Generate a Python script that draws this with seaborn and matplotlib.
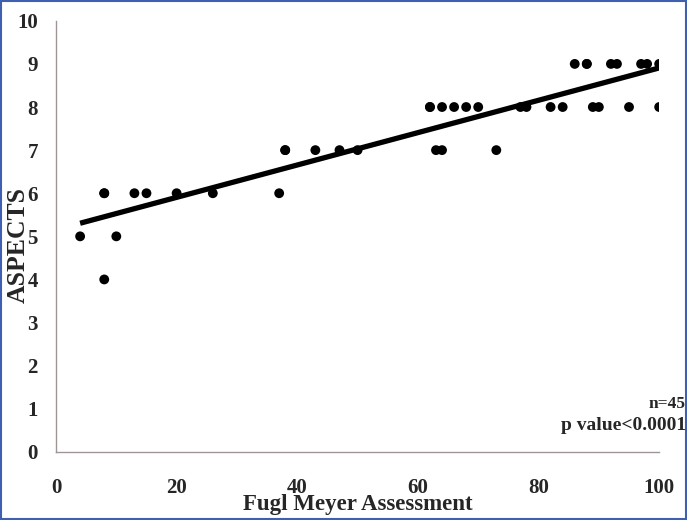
import matplotlib
matplotlib.use("Agg")
import matplotlib.pyplot as plt
import seaborn as sns
import pandas as pd
from matplotlib.patches import Rectangle

fugl_meyer = [8, 4, 10, 8, 8, 13, 15, 20, 26, 37,
              38, 38, 43, 47, 50, 63, 64, 73,
              62, 62, 64, 66, 68, 70, 77, 78, 82, 84, 89, 90, 95, 100,
              86, 88, 88, 92, 93, 97, 98, 100]
aspects = [4, 5, 5, 6, 6, 6, 6, 6, 6, 6,
           7, 7, 7, 7, 7, 7, 7, 7,
           8, 8, 8, 8, 8, 8, 8, 8, 8, 8, 8, 8, 8, 8,
           9, 9, 9, 9, 9, 9, 9, 9]
x_ticks = [0, 20, 40, 60, 80, 100]
y_ticks = list(range(0, 11))

df = pd.DataFrame({"Fugl Meyer Assessment": fugl_meyer, "ASPECTS": aspects})

sns.set_style("white")
plt.rcParams['font.family'] = ['Liberation Serif', 'DejaVu Serif']

fig = plt.figure(figsize=(6.87, 5.2), dpi=100)
ax = fig.add_axes([0.0815, 0.131, 0.878, 0.829])

sns.regplot(data=df, x="Fugl Meyer Assessment", y="ASPECTS", ax=ax, ci=None,
            scatter_kws=dict(s=50, color="black", edgecolor="none", alpha=1),
            line_kws=dict(color="black", lw=3.8, solid_capstyle="butt"))

ax.set_xlim(0, 100)
ax.set_ylim(0, 10)
ax.set_xticks(x_ticks)
ax.set_yticks(y_ticks)
ax.set_xticklabels([str(t) for t in x_ticks], fontsize=15, fontweight="bold")
ax.set_yticklabels([str(t) for t in y_ticks], fontsize=15, fontweight="bold")
ax.tick_params(axis="x", direction="out", length=5, width=1, color="#a09595", pad=14)
ax.tick_params(axis="y", direction="out", length=5, width=1, color="#a09595", pad=8)
for s in ["top", "right"]:
    ax.spines[s].set_visible(False)
for s in ["left", "bottom"]:
    ax.spines[s].set_color("#a09595")
    ax.spines[s].set_linewidth(1)
ax.set_xlabel("Fugl Meyer Assessment", fontsize=16.5, fontweight="bold")
ax.set_ylabel("ASPECTS", fontsize=18.5, fontweight="bold")
ax.xaxis.set_label_coords(0.5, -0.098)
ax.yaxis.set_label_coords(-0.044, 0.48)

fig.text(0.998, 0.223, "n=45", ha="right", va="center", fontsize=12.5, fontweight="bold")
fig.text(0.998, 0.182, "p value<0.0001", ha="right", va="center", fontsize=14, fontweight="bold")

fig.patches.append(Rectangle((0.002, 0.002), 0.996, 0.996, transform=fig.transFigure,
                             fill=False, edgecolor="#3f5fb0", lw=1.5))

fig.savefig("out.png", dpi=100)
